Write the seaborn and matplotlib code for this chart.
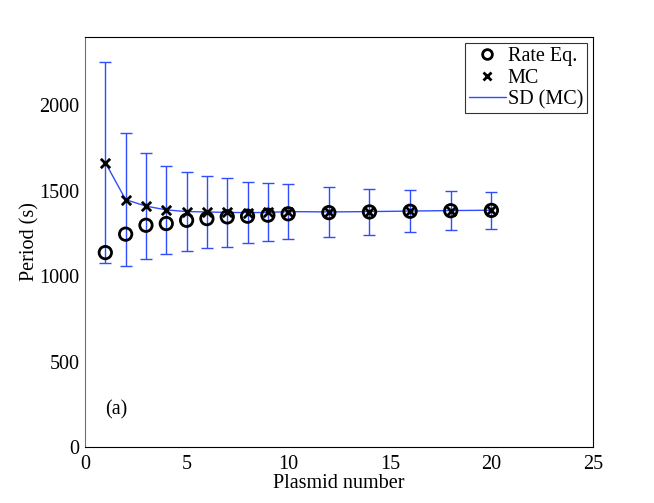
import numpy as np
import pandas as pd
import matplotlib
matplotlib.use("Agg")
import matplotlib.pyplot as plt
import seaborn as sns
from matplotlib.lines import Line2D

# Valeurs
plasmid = [1, 2, 3, 4, 5, 6, 7, 8, 9, 10, 12, 14, 16, 18, 20]
rate_eq = [1138, 1246, 1298, 1308, 1327, 1337, 1347, 1351, 1357, 1365, 1372, 1376, 1380, 1383, 1385]
mc_mean = [1665, 1448, 1410, 1388, 1378, 1376, 1373, 1372, 1373, 1378, 1376, 1378, 1381, 1384, 1386]
mc_sd = [590, 390, 309, 258, 229, 210, 200, 180, 170, 162, 146, 135, 124, 115, 109]

df = pd.DataFrame({"plasmid": plasmid, "rate": rate_eq, "mc": mc_mean, "sd": mc_sd})

sns.set_style("white")
plt.rcParams["font.family"] = ["Liberation Serif", "DejaVu Serif"]
plt.rcParams["text.color"] = "black"
plt.rcParams["axes.labelcolor"] = "black"
plt.rcParams["xtick.color"] = "black"
plt.rcParams["ytick.color"] = "black"

blue = "#2f4dff"

fig = plt.figure(figsize=(6.54, 5.03), dpi=100)
ax = fig.add_axes([85 / 654, 1 - 447 / 503, 508 / 654, 410 / 503])

# Barres d'erreur + ligne MC
ax.errorbar(df["plasmid"], df["mc"], yerr=df["sd"], fmt="none", ecolor=blue,
            elinewidth=1.0, capsize=4.5, capthick=1.0, zorder=2)
sns.lineplot(data=df, x="plasmid", y="mc", color=blue, linewidth=1.0, ax=ax, zorder=2)

# Marqueurs
sns.scatterplot(data=df, x="plasmid", y="rate", marker="o", s=80, facecolors="none",
                edgecolor="black", linewidth=2, ax=ax, zorder=3)
sns.scatterplot(data=df, x="plasmid", y="mc", marker="x", s=45, color="black",
                linewidth=2, ax=ax, zorder=4)

ax.set_xlim(0, 25)
ax.set_ylim(0, 2400)
ax.set_xticks([0, 5, 10, 15, 20, 25])
ax.set_yticks([0, 500, 1000, 1500, 2000])
ax.tick_params(direction="in", length=4, width=0.6, labelsize=14.5, colors="black")
ax.tick_params(axis="x", pad=6)
ax.tick_params(axis="y", pad=4)
ax.set_xlabel("Plasmid number", fontsize=14.5, labelpad=0)
ax.set_ylabel("Period (s)", fontsize=14.5, labelpad=0)

for side in ["top", "right", "bottom"]:
    ax.spines[side].set_color("black")
    ax.spines[side].set_linewidth(0.8)
ax.spines["left"].set_color("#707070")
ax.spines["left"].set_linewidth(0.8)

ax.text(1.0, 220, "(a)", fontsize=14.5, ha="left", va="center")

handles = [
    Line2D([], [], marker="o", linestyle="none", markerfacecolor="none",
           markeredgecolor="black", markeredgewidth=2, markersize=7),
    Line2D([], [], marker="x", linestyle="none", color="black",
           markeredgewidth=2, markersize=6),
    Line2D([], [], color=blue, linewidth=1.0),
]
leg = ax.legend(handles, ["Rate Eq.", "MC", "SD (MC)"], loc="upper right",
                fontsize=14.5, frameon=True, fancybox=False, edgecolor="black",
                borderpad=0.2, labelspacing=0.12, handlelength=1.8,
                handletextpad=0.1, borderaxespad=0.3)
leg.get_frame().set_linewidth(0.8)

fig.savefig("out.png", dpi=100)
